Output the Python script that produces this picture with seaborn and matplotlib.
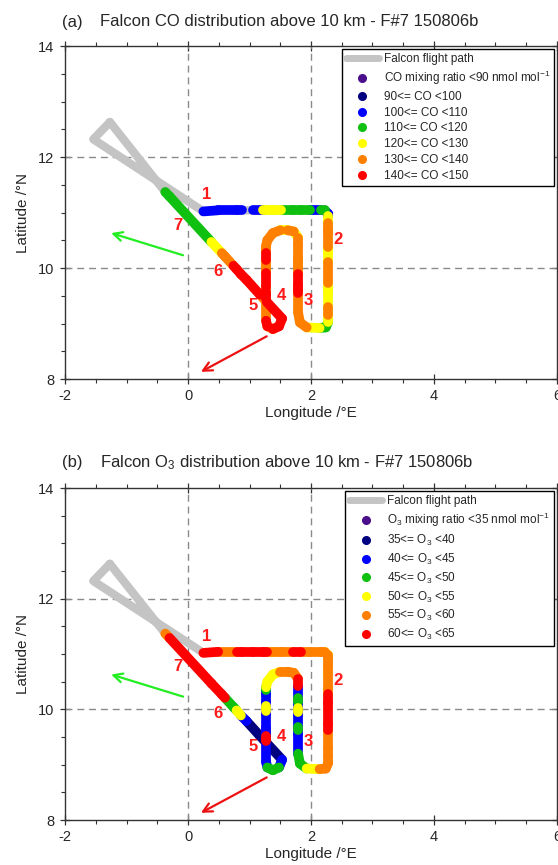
import numpy as np
import pandas as pd
import matplotlib
matplotlib.use("Agg")
import matplotlib.pyplot as plt
from matplotlib.lines import Line2D
from matplotlib.ticker import MultipleLocator
import seaborn as sns

# ---------------------------------------------------------------------------
# Falcon flight F#7 (150806b): track above 10 km with CO and O3 (nmol/mol)
# ---------------------------------------------------------------------------
track_lon = [0.25, 0.49, 0.79, 0.87, 1.06, 1.22, 1.28, 1.36, 1.40, 1.52,
             1.71, 1.84, 1.98, 2.17, 2.22, 2.28, 2.28, 2.28, 2.28, 2.28,
             2.28, 2.28, 2.28, 2.28, 2.28, 2.28, 2.28, 2.28, 2.28, 2.24,
             2.14, 1.93, 1.82, 1.79, 1.79, 1.79, 1.79, 1.79, 1.79, 1.79,
             1.79, 1.79, 1.79, 1.79, 1.72, 1.62, 1.50, 1.38, 1.29, 1.27,
             1.27, 1.27, 1.27, 1.27, 1.27, 1.27, 1.27, 1.27, 1.27, 1.27,
             1.27, 1.27, 1.29, 1.38, 1.48, 1.53, 1.28, 1.17, 0.95, 0.86,
             0.79, 0.74, 0.60, 0.55, 0.38, -0.30, -0.37]
track_lat = [11.02, 11.04, 11.04, 11.04, 11.04, 11.04, 11.04, 11.04, 11.04, 11.04,
             11.04, 11.04, 11.04, 11.04, 11.04, 10.98, 10.93, 10.81, 10.69, 10.63,
             10.38, 10.34, 10.27, 10.11, 9.73, 9.63, 9.30, 9.15, 9.03, 8.93,
             8.92, 8.93, 9.02, 9.20, 9.55, 9.62, 9.69, 9.90, 9.95, 10.03,
             10.13, 10.20, 10.42, 10.55, 10.66, 10.68, 10.68, 10.63, 10.50, 10.40,
             10.35, 10.27, 10.14, 10.06, 9.97, 9.91, 9.66, 9.57, 9.52, 9.45,
             9.42, 9.05, 8.95, 8.90, 8.95, 9.09, 9.39, 9.52, 9.79, 9.89,
             9.98, 10.04, 10.21, 10.27, 10.47, 11.29, 11.37]
co = [105, 105, 105, np.nan, 105, 125, 125, 125, 125, 115,
      115, 115, 105, 115, 105, 105, 125, 135, 135, 135,
      125, 125, 125, 135, 125, 125, 135, 125, 115, 115,
      125, 135, 135, 135, 145, 145, 145, 135, 135, 135,
      135, 135, 135, 125, 135, 125, 135, 135, 135, 135,
      135, 145, 135, 135, 135, 145, 135, 145, 145, 135,
      135, 145, 135, 145, 145, 145, 135, 145, 145, 145,
      145, 135, 135, 125, 115, 115, 115]
o3 = [62, 57, 62, 62, 62, 62, 57, 52, 57, 57,
      62, 57, 57, 57, 52, 57, 57, 57, 52, 57,
      57, 52, 62, 62, 62, 57, 57, 57, 57, 57,
      52, 47, 47, 42, 42, 47, 42, 42, 52, 42,
      47, 42, 62, 57, 57, 57, 52, 52, 52, 47,
      42, 42, 42, 52, 42, 42, 42, 42, 62, 62,
      42, 42, 47, 47, 42, 37, 37, 37, 42, 52,
      47, 47, 62, 62, 62, 57, 57]

# remaining flight path (below 10 km), joined to the track ends
approach_lon = [-1.27, -1.54]
approach_lat = [12.63, 12.32]

# flight leg numbers
leg_text = ["1", "2", "3", "4", "5", "6", "7"]
leg_lon = [0.30, 2.44, 1.95, 1.52, 1.06, 0.49, -0.16]
leg_lat = [11.32, 10.52, 9.42, 9.51, 9.33, 9.93, 10.77]

# wind vectors (tail -> head)
wind_tail_lon = [-0.08, 1.28]
wind_tail_lat = [10.23, 8.77]
wind_head_lon = [-1.25, 0.21]
wind_head_lat = [10.63, 8.13]
wind_colors = ["#22ee22", "#ee1111"]

# colour classes
co_bins = [0, 90, 100, 110, 120, 130, 140, 150]
co_labels = ["CO mixing ratio <90 nmol mol$^{-1}$", "90<= CO <100",
             "100<= CO <110", "110<= CO <120", "120<= CO <130",
             "130<= CO <140", "140<= CO <150"]
o3_bins = [0, 35, 40, 45, 50, 55, 60, 65]
o3_labels = ["O$_3$ mixing ratio <35 nmol mol$^{-1}$", "35<= O$_3$ <40",
             "40<= O$_3$ <45", "45<= O$_3$ <50", "50<= O$_3$ <55",
             "55<= O$_3$ <60", "60<= O$_3$ <65"]
class_colors = ["#4b0f8c", "#000080", "#0000ff", "#10c010",
                "#ffff00", "#ff8000", "#ff0000"]
path_color = "#c4c4c4"

sns.set_style("ticks")
plt.rcParams["font.family"] = ["Liberation Sans", "DejaVu Sans"]
plt.rcParams["axes.unicode_minus"] = False
plt.rcParams["mathtext.fontset"] = "custom"
plt.rcParams["mathtext.rm"] = "Liberation Sans"
plt.rcParams["mathtext.it"] = "Liberation Sans:italic"
plt.rcParams["mathtext.bf"] = "Liberation Sans:bold"

fig = plt.figure(figsize=(5.58, 8.65), dpi=100)
ax_top = fig.add_axes([0.1165, 0.5618, 0.8817, 0.3850])
ax_bot = fig.add_axes([0.1165, 0.0520, 0.8817, 0.3838])


def segments(values, bins):
    cls = pd.cut(pd.Series(values, dtype=float), bins, right=False, labels=False)
    rows = []
    for i in range(len(track_lon) - 1):
        if pd.isna(cls.iloc[i]):
            continue
        k = int(cls.iloc[i])
        rows.append((i, track_lon[i], track_lat[i], k))
        rows.append((i, track_lon[i + 1], track_lat[i + 1], k))
    df = pd.DataFrame(rows, columns=["seg", "lon", "lat", "cls"])
    df["cls"] = df["cls"].map(lambda k: f"c{k}")
    return df


def draw_panel(ax, values, bins, labels):
    # full flight path in grey
    path_lon = approach_lon + track_lon + approach_lon[:1]
    path_lat = approach_lat + track_lat + approach_lat[:1]
    sns.lineplot(x=path_lon, y=path_lat, sort=False, estimator=None,
                 color=path_color, lw=6.0, solid_capstyle="round",
                 solid_joinstyle="round", ax=ax, zorder=2)

    # coloured measurements along the track
    seg = segments(values, bins)
    palette = {f"c{k}": c for k, c in enumerate(class_colors)}
    order = [f"c{k}" for k in range(len(class_colors)) if f"c{k}" in set(seg["cls"])]
    sns.lineplot(data=seg, x="lon", y="lat", hue="cls", hue_order=order,
                 units="seg", estimator=None, sort=False, palette=palette,
                 legend=False, lw=7.0, solid_capstyle="round", ax=ax, zorder=3)

    # reference grid
    for gx in (0, 2):
        ax.axvline(gx, color="#8a8a8a", lw=1.0, ls=(0, (5, 3.5)), zorder=1)
    for gy in (10, 12):
        ax.axhline(gy, color="#8a8a8a", lw=1.0, ls=(0, (5, 3.5)), zorder=1)

    # wind arrows
    for i in range(len(wind_tail_lon)):
        ax.annotate("", xy=(wind_head_lon[i], wind_head_lat[i]),
                    xytext=(wind_tail_lon[i], wind_tail_lat[i]),
                    arrowprops=dict(arrowstyle="->", color=wind_colors[i],
                                    lw=1.6, mutation_scale=16,
                                    shrinkA=0, shrinkB=0), zorder=4)

    # leg numbers
    for t, x, y in zip(leg_text, leg_lon, leg_lat):
        ax.text(x, y, t, color="#ff1a1a", fontsize=12, fontweight="bold",
                ha="center", va="center", zorder=5)

    ax.set_xlim(-2, 6)
    ax.set_ylim(8, 14)
    ax.set_xticks([-2, 0, 2, 4, 6])
    ax.set_yticks([8, 10, 12, 14])
    ax.xaxis.set_minor_locator(MultipleLocator(0.5))
    ax.yaxis.set_minor_locator(MultipleLocator(0.5))
    ax.tick_params(which="major", direction="inout", length=7, width=0.9,
                   top=True, right=True, labelsize=10.5, pad=4, color="#333333")
    ax.tick_params(which="minor", direction="out", length=3, width=0.8,
                   top=True, right=True, color="#333333")
    for s in ax.spines.values():
        s.set_color("#333333")
        s.set_linewidth(1.0)
    ax.set_xlabel("Longitude /\u00b0E", fontsize=11, labelpad=2)
    ax.set_ylabel("Latitude /\u00b0N", fontsize=11, labelpad=6)

    handles = [Line2D([], [], color=path_color, lw=5, solid_capstyle="round")]
    for c in class_colors:
        handles.append(Line2D([], [], ls="none", marker="o", markersize=5.5,
                              markerfacecolor=c, markeredgecolor=c))
    leg = ax.legend(handles, ["Falcon flight path"] + labels, loc="upper right",
                    fontsize=8.5, frameon=True, fancybox=False, framealpha=1,
                    edgecolor="black", handlelength=2.8, handletextpad=0.4,
                    labelspacing=0.32, borderpad=0.35, borderaxespad=0.25)
    leg.get_frame().set_linewidth(1.0)
    leg.set_zorder(6)


draw_panel(ax_top, co, co_bins, co_labels)
draw_panel(ax_bot, o3, o3_bins, o3_labels)

fig.text(62 / 558, 1 - 22 / 865, "(a)", fontsize=12, va="center", ha="left")
fig.text(100 / 558, 1 - 22 / 865,
         "Falcon CO distribution above 10 km - F#7 150806b",
         fontsize=12, va="center", ha="left")
fig.text(62 / 558, 1 - 463 / 865, "(b)", fontsize=12, va="center", ha="left")
fig.text(100 / 558, 1 - 463 / 865,
         "Falcon O$_3$ distribution above 10 km - F#7 150806b",
         fontsize=12, va="center", ha="left")

fig.savefig("out.png", dpi=100)
